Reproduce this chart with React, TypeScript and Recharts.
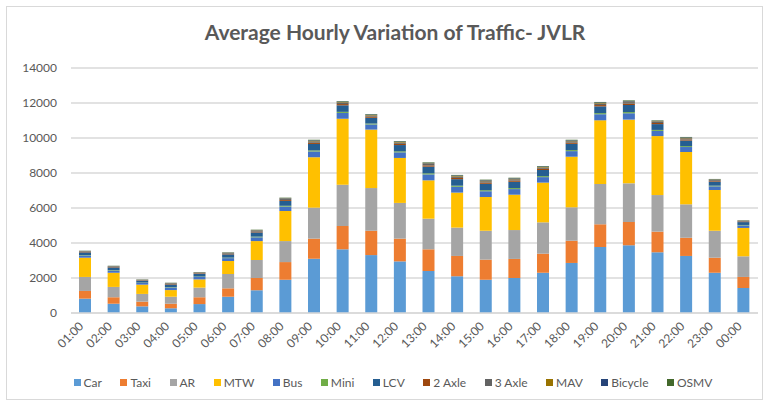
import React from 'react';
import { BarChart, Bar, XAxis, YAxis, CartesianGrid, Legend } from 'recharts';

const hours = ['01:00', '02:00', '03:00', '04:00', '05:00', '06:00', '07:00', '08:00', '09:00', '10:00', '11:00', '12:00',
  '13:00', '14:00', '15:00', '16:00', '17:00', '18:00', '19:00', '20:00', '21:00', '22:00', '23:00', '00:00'];

const car = [820, 530, 380, 270, 510, 930, 1300, 1900, 3100, 3640, 3310, 2950, 2400, 2100, 1900, 2000, 2300, 2860, 3770, 3870, 3470, 3260, 2300, 1430];
const taxi = [440, 370, 270, 260, 390, 480, 700, 1010, 1150, 1330, 1390, 1300, 1240, 1160, 1150, 1090, 1090, 1270, 1300, 1330, 1180, 1040, 860, 630];
const ar = [800, 590, 440, 400, 550, 820, 1030, 1200, 1770, 2360, 2440, 2040, 1750, 1620, 1650, 1650, 1790, 1910, 2300, 2210, 2090, 1910, 1540, 1180];
const mtw = [1100, 810, 530, 380, 470, 740, 1080, 1720, 2880, 3770, 3340, 2570, 2190, 2000, 1930, 2020, 2270, 2890, 3640, 3640, 3370, 2990, 2330, 1620];
const bus = [130, 130, 100, 140, 140, 165, 215, 250, 330, 333, 294, 320, 340, 333, 327, 320, 314, 320, 347, 363, 297, 284, 208, 145];
const mini = [25, 25, 18, 25, 25, 30, 39, 46, 60, 61, 53, 58, 62, 61, 59, 58, 57, 58, 63, 66, 54, 52, 38, 26];
const lcv = [150, 150, 110, 155, 155, 185, 240, 281, 370, 374, 329, 359, 381, 374, 366, 359, 351, 359, 388, 407, 333, 318, 233, 163];
const axle2 = [28, 28, 21, 29, 29, 35, 45, 53, 70, 71, 62, 68, 72, 71, 69, 68, 67, 68, 74, 77, 63, 60, 44, 31];
const axle3 = [32, 32, 24, 34, 34, 40, 52, 61, 80, 81, 71, 78, 82, 81, 79, 78, 76, 78, 84, 88, 72, 69, 50, 35];
const mav = [12, 12, 9, 13, 13, 15, 20, 23, 30, 30, 27, 29, 31, 30, 30, 29, 28, 29, 31, 33, 27, 26, 19, 13];
const bicycle = [12, 12, 9, 12, 12, 15, 19, 23, 30, 30, 27, 29, 31, 30, 30, 29, 29, 29, 32, 33, 27, 25, 19, 14];
const osmv = [11, 11, 9, 12, 12, 15, 20, 23, 30, 30, 27, 29, 31, 30, 30, 29, 28, 29, 31, 33, 27, 26, 19, 13];

const yTicks = [0, 2000, 4000, 6000, 8000, 10000, 12000, 14000];

const series = [
  { key: 'Car', values: car, color: '#5B9BD5' },
  { key: 'Taxi', values: taxi, color: '#ED7D31' },
  { key: 'AR', values: ar, color: '#A5A5A5' },
  { key: 'MTW', values: mtw, color: '#FFC000' },
  { key: 'Bus', values: bus, color: '#4472C4' },
  { key: 'Mini', values: mini, color: '#70AD47' },
  { key: 'LCV', values: lcv, color: '#255E91' },
  { key: '2 Axle', values: axle2, color: '#9E480E' },
  { key: '3 Axle', values: axle3, color: '#636363' },
  { key: 'MAV', values: mav, color: '#997300' },
  { key: 'Bicycle', values: bicycle, color: '#264478' },
  { key: 'OSMV', values: osmv, color: '#43682B' },
];

const data = hours.map((h, i) => {
  const row: Record<string, string | number> = { hour: h };
  series.forEach(s => { row[s.key] = s.values[i]; });
  return row;
});

const FONT = 'Lato, "Open Sans", sans-serif';
const TEXT = '#595959';

const HourTick = ({ x, y, payload }: any) => (
  <text x={x - 4} y={y + 3} transform={`rotate(-45, ${x - 4}, ${y + 3})`} textAnchor="end" dy="0.35em"
    fill={TEXT} fontSize={12} fontFamily={FONT}>
    {payload.value}
  </text>
);

const LegendRow = () => (
  <div style={{ display: 'flex', justifyContent: 'center', gap: 18.5, height: 20, alignItems: 'center', fontFamily: FONT, fontSize: 12, color: TEXT, paddingLeft: 28 }}>
    {series.map(s => (
      <span key={s.key} style={{ display: 'flex', alignItems: 'center', gap: 3 }}>
        <span style={{ width: 7, height: 7, background: s.color, display: 'inline-block' }} />
        {s.key}
      </span>
    ))}
  </div>
);

export default function App() {
  return (
    <div style={{ position: 'absolute', left: 0, top: 0, width: 765, height: 403, background: '#fff' }}>
      <div style={{ position: 'absolute', left: 6, top: 6, width: 755, height: 392, border: '1px solid #D9D9D9' }} />
      <div style={{ position: 'absolute', left: 0, top: 19, width: 790, textAlign: 'center', fontFamily: FONT, fontWeight: 700, fontSize: 21, color: TEXT }}>
        Average Hourly Variation of Traffic- JVLR
      </div>
      <BarChart width={765} height={403} data={data} margin={{ top: 68, right: 7, bottom: 11, left: 0 }} barSize={12}>
        <CartesianGrid vertical={false} stroke="#D9D9D9" strokeWidth={1.3} />
        <XAxis dataKey="hour" interval={0} height={59} tick={<HourTick />} tickLine={false} axisLine={{ stroke: '#D9D9D9', strokeWidth: 1.3 }} />
        <YAxis domain={[0, 14000]} ticks={yTicks} width={71} tickLine={false} axisLine={false} tickMargin={8}
          tick={{ fill: TEXT, fontSize: 12, fontFamily: FONT }} />
        <Legend verticalAlign="bottom" height={20} content={<LegendRow />} />
        {series.map(s => (
          <Bar key={s.key} dataKey={s.key} stackId="a" fill={s.color} isAnimationActive={false} />
        ))}
      </BarChart>
    </div>
  );
}
